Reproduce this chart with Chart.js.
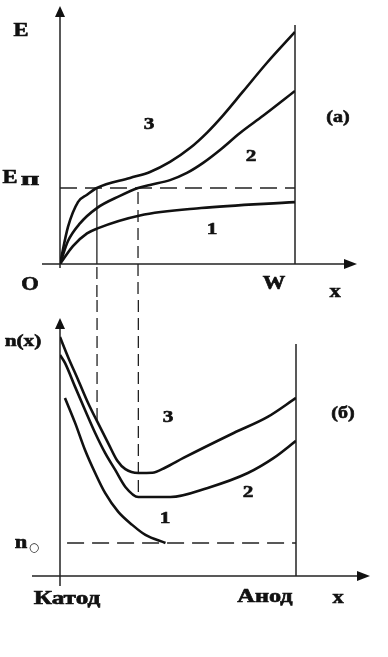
<!DOCTYPE html>
<html>
<head>
<meta charset="utf-8">
<script src="https://cdn.jsdelivr.net/npm/chart.js@4/dist/chart.umd.min.js"></script>
<style>
  html, body { margin: 0; padding: 0; background: #fff; }
  #wrap { position: relative; width: 388px; height: 657px; }
  canvas { position: absolute; left: 0; }
  #fieldChart { top: 0; }
  #densityChart { top: 300px; }
</style>
</head>
<body>
<div id="wrap">
  <canvas id="fieldChart" width="388" height="300"></canvas>
  <canvas id="densityChart" width="388" height="357"></canvas>
</div>
<script>
// panel (a): field E(x), x from 0 (O) to 1 (W)
const xField1 = [0, 0.055, 0.115, 0.157, 0.34, 0.6, 1.0];
const field1 = [0, 0.75, 1.28, 1.48, 2.03, 2.34, 2.59];
const xField2 = [0, 0.034, 0.085, 0.157, 0.255, 0.332, 0.383, 0.468, 0.54, 0.609, 0.681, 0.766, 0.864, 1.0];
const field2 = [0, 0.96, 1.7, 2.34, 2.85, 3.18, 3.31, 3.51, 3.81, 4.23, 4.77, 5.48, 6.2, 7.24];
const xField3 = [0, 0.034, 0.077, 0.115, 0.157, 0.298, 0.383, 0.468, 0.553, 0.626, 0.694, 0.779, 0.88, 1.0];
const field3 = [0, 1.55, 2.6, 2.9, 3.18, 3.6, 3.85, 4.27, 4.85, 5.5, 6.22, 7.22, 8.41, 9.71];
const fieldBreak = 3.18; // Eп

// panel (б): density n(x), x from 0 (Катод) to 1 (Анод)
const xDens1 = [0.021, 0.064, 0.106, 0.149, 0.191, 0.247, 0.306, 0.362, 0.447];
const dens1 = [7.42, 6.38, 5.25, 4.29, 3.46, 2.67, 2.13, 1.71, 1.375];
const xDens2 = [0, 0.021, 0.064, 0.106, 0.149, 0.191, 0.234, 0.277, 0.332, 0.468, 0.626, 0.796, 0.906, 1.0];
const dens2 = [9.21, 8.88, 7.88, 6.92, 5.96, 5.13, 4.42, 3.71, 3.29, 3.29, 3.67, 4.29, 4.92, 5.63];
const xDens3 = [0, 0.034, 0.077, 0.119, 0.157, 0.204, 0.243, 0.277, 0.332, 0.391, 0.447, 0.523, 0.736, 0.88, 1.0];
const dens3 = [9.96, 9.13, 8.17, 7.21, 6.45, 5.54, 4.8, 4.45, 4.29, 4.3, 4.52, 4.92, 5.96, 6.63, 7.42];
const densBase = 1.375; // n0
const densBaseStart = 0.03;

// dashed links between the panels
const crossX = [0.157, 0.332];

const INK = "#111";
const FONT = "'Liberation Serif', 'Times New Roman', serif";

function pts(xs, ys) {
  return xs.map((x, i) => ({ x: x, y: ys[i] }));
}

function curve(xs, ys) {
  return {
    data: pts(xs, ys),
    borderColor: INK,
    borderWidth: 2.6,
    pointRadius: 0,
    cubicInterpolationMode: "monotone",
    fill: false
  };
}

function dashed(xs, ys) {
  return {
    data: pts(xs, ys),
    borderColor: "#222",
    borderWidth: 1.3,
    borderDash: [17, 8],
    pointRadius: 0,
    fill: false
  };
}

function line(ctx, x1, y1, x2, y2, width, dash) {
  ctx.save();
  ctx.strokeStyle = "#222";
  ctx.lineWidth = width;
  ctx.setLineDash(dash || []);
  ctx.beginPath();
  ctx.moveTo(x1, y1);
  ctx.lineTo(x2, y2);
  ctx.stroke();
  ctx.restore();
}

function arrowUp(ctx, x, y) {
  ctx.beginPath();
  ctx.moveTo(x, y);
  ctx.lineTo(x - 5, y + 11);
  ctx.lineTo(x + 5, y + 11);
  ctx.closePath();
  ctx.fillStyle = INK;
  ctx.fill();
}

function arrowRight(ctx, x, y) {
  ctx.beginPath();
  ctx.moveTo(x, y);
  ctx.lineTo(x - 13, y - 5);
  ctx.lineTo(x - 13, y + 5);
  ctx.closePath();
  ctx.fillStyle = INK;
  ctx.fill();
}

function label(ctx, text, x, y, size, stretch) {
  ctx.save();
  ctx.font = "bold " + size + "px " + FONT;
  ctx.fillStyle = INK;
  ctx.strokeStyle = INK;
  ctx.lineWidth = 0.6;
  ctx.textAlign = "center";
  ctx.textBaseline = "middle";
  ctx.translate(x, y);
  ctx.scale(stretch || 1.25, 1);
  ctx.fillText(text, 0, 0);
  ctx.strokeText(text, 0, 0);
  ctx.restore();
}

const baseOptions = (pad) => ({
  responsive: false,
  animation: false,
  layout: { padding: pad },
  plugins: { legend: { display: false }, tooltip: { enabled: false } },
  scales: {
    x: { type: "linear", min: 0, max: 1, display: false },
    y: { type: "linear", min: 0, max: 10, display: false }
  }
});

const fieldFrame = {
  id: "fieldFrame",
  beforeDatasetsDraw(chart) {
    const { ctx, scales: { x, y }, height } = chart;
    const x0 = x.getPixelForValue(0);
    const xW = x.getPixelForValue(1);
    const y0 = y.getPixelForValue(0);
    line(ctx, x0, 8, x0, y0 + 4, 1.5);
    arrowUp(ctx, x0, 6);
    line(ctx, 42, y0, 350, y0, 1.5);
    arrowRight(ctx, 357, y0);
    line(ctx, xW, y.getPixelForValue(10), xW, y0, 1.5);
    const yb = y.getPixelForValue(fieldBreak);
    const xa = x.getPixelForValue(crossX[0]);
    const xb = x.getPixelForValue(crossX[1]);
    line(ctx, xa, yb, xa, y0, 1.3);
    line(ctx, xa, y0 + 3, xa, height, 1.3, [12, 6]);
    line(ctx, xb, yb + 4, xb, height, 1.3, [12, 6]);
  },
  afterDraw(chart) {
    const { ctx } = chart;
    label(ctx, "E", 21, 31, 18);
    label(ctx, "E", 10, 178, 18);
    label(ctx, "п", 30, 180, 18, 1.8);
    label(ctx, "O", 30, 285, 18);
    label(ctx, "W", 274, 284, 18);
    label(ctx, "x", 335, 292, 18);
    label(ctx, "(a)", 338, 118, 16);
    label(ctx, "3", 149, 125, 17);
    label(ctx, "2", 251, 157, 17);
    label(ctx, "1", 212, 230, 17);
  }
};

const densFrame = {
  id: "densFrame",
  beforeDatasetsDraw(chart) {
    const { ctx, scales: { x, y } } = chart;
    const x0 = x.getPixelForValue(0);
    const xA = x.getPixelForValue(1);
    const y0 = y.getPixelForValue(0);
    line(ctx, x0, 20, x0, y0 + 10, 1.5);
    arrowUp(ctx, x0, 18);
    line(ctx, 32, y0, 362, y0, 1.5);
    arrowRight(ctx, 370, y0);
    line(ctx, xA, y.getPixelForValue(9.67), xA, y0, 1.5);
    const x1 = x.getPixelForValue(crossX[0]);
    const x2 = x.getPixelForValue(crossX[1]);
    line(ctx, x1, 0, x1, y.getPixelForValue(dens3[4]), 1.3, [12, 6]);
    line(ctx, x2, 0, x2, y.getPixelForValue(dens2[8]), 1.3, [12, 6]);
  },
  afterDraw(chart) {
    const { ctx } = chart;
    label(ctx, "n(x)", 23, 42, 17);
    label(ctx, "n", 21, 243, 18);
    ctx.save();
    ctx.font = "12px 'DejaVu Sans', sans-serif";
    ctx.fillStyle = INK;
    ctx.textAlign = "center";
    ctx.textBaseline = "middle";
    ctx.fillText("○", 34, 248);
    ctx.restore();
    label(ctx, "3", 168, 118, 17);
    label(ctx, "(б)", 343, 114, 16);
    label(ctx, "2", 248, 193, 17);
    label(ctx, "1", 165, 219, 17);
    label(ctx, "Катод", 67, 299, 18, 1.4);
    label(ctx, "Анод", 265, 297, 18, 1.35);
    label(ctx, "x", 338, 298, 18);
  }
};

new Chart(document.getElementById("fieldChart"), {
  type: "line",
  data: {
    datasets: [
      curve(xField1, field1),
      curve(xField2, field2),
      curve(xField3, field3),
      dashed([0, 1], [fieldBreak, fieldBreak])
    ]
  },
  options: baseOptions({ left: 60, right: 93, top: 25, bottom: 36 }),
  plugins: [fieldFrame]
});

new Chart(document.getElementById("densityChart"), {
  type: "line",
  data: {
    datasets: [
      curve(xDens1, dens1),
      curve(xDens2, dens2),
      curve(xDens3, dens3),
      dashed([densBaseStart, 1], [densBase, densBase])
    ]
  },
  options: baseOptions({ left: 60, right: 92, top: 36, bottom: 81 }),
  plugins: [densFrame]
});
</script>
</body>
</html>
